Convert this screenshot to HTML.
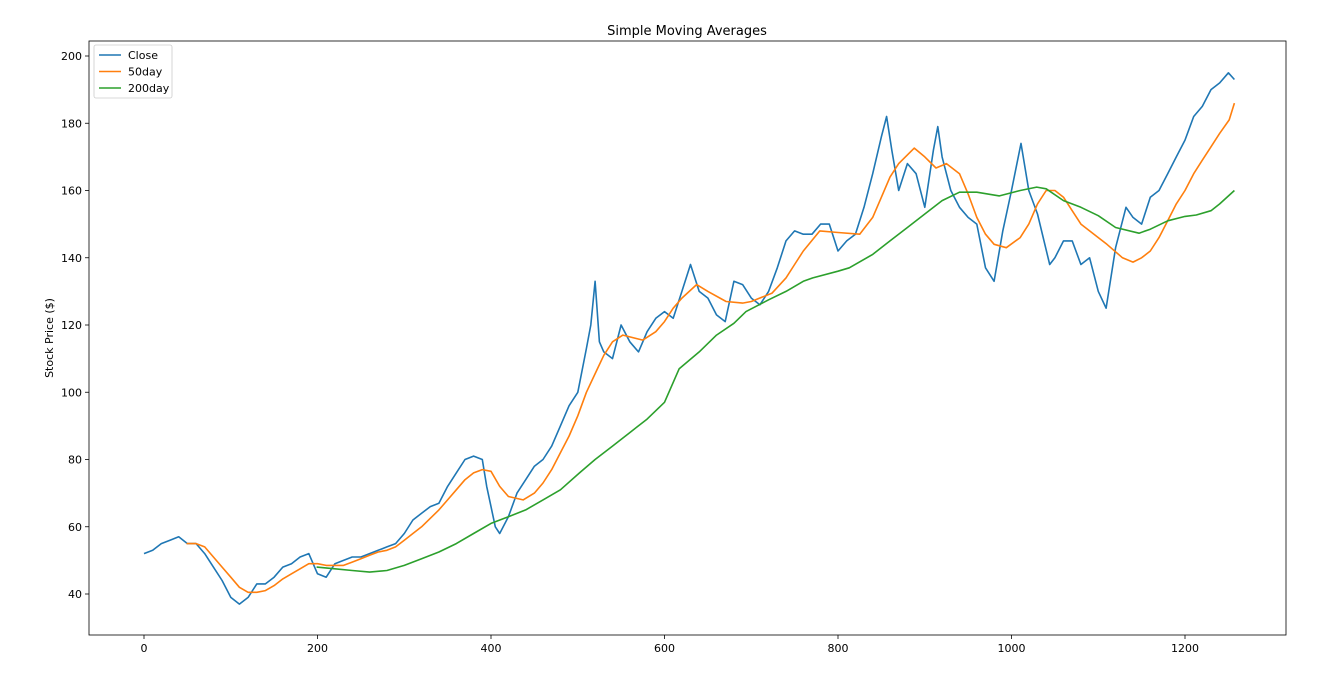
<!DOCTYPE html>
<html><head><meta charset="utf-8"><style>
body{margin:0;background:#fff;}
svg{display:block;font-family:"DejaVu Sans","Liberation Sans",sans-serif;}
</style></head><body>
<svg id="chart" width="1341" height="682" viewBox="0 0 1341 682"></svg>
<script>
const closeIdx=[0,10,20,30,40,50,60,70,80,90,100,110,120,130,140,150,160,170,180,190,200,210,220,230,240,250,260,270,280,290,300,310,320,330,340,350,360,370,380,390,395,400,405,410,420,430,440,450,460,470,480,490,500,510,515,520,525,530,540,550,560,570,580,590,600,610,620,630,640,650,660,670,680,690,700,710,720,730,740,750,760,770,780,790,800,810,820,830,840,850,856,862,870,880,890,900,910,915,920,930,940,950,960,970,980,990,1000,1011,1020,1030,1044,1050,1060,1070,1080,1090,1100,1109,1120,1132,1140,1150,1160,1170,1180,1190,1200,1210,1220,1230,1240,1250,1257];
const closeVals=[52,53,55,56,57,55,55,52,48,44,39,37,39,43,43,45,48,49,51,52,46,45,49,50,51,51,52,53,54,55,58,62,64,66,67,72,76,80,81,80,72,66,60,58,63,70,74,78,80,84,90,96,100,113,120,133,115,112,110,120,115,112,118,122,124,122,130,138,130,128,123,121,133,132,128,126,130,137,145,148,147,147,150,150,142,145,147,155,165,176,182,172,160,168,165,155,172,179,170,160,155,152,150,137,133,148,160,174,160,153,138,140,145,145,138,140,130,125,143,155,152,150,158,160,165,170,175,182,185,190,192,195,193];
const sma50Idx=[49,60,70,80,90,100,110,120,130,140,150,160,170,180,190,200,210,220,230,240,250,260,270,280,290,300,310,320,330,340,350,360,370,380,390,400,410,420,437,450,460,470,480,490,500,510,522,530,540,552,575,590,600,610,620,637,650,671,690,700,724,740,750,760,779,800,825,840,850,860,870,888,900,913,925,940,950,960,970,980,994,1010,1020,1030,1040,1050,1060,1070,1080,1090,1100,1110,1128,1140,1150,1160,1170,1180,1190,1200,1210,1220,1230,1240,1251,1257];
const sma50Vals=[55,55,54,51,48,45,42,40.5,40.5,41,42.5,44.5,46,47.5,49,49,48.5,48.5,48.5,49.5,50.5,51.5,52.5,53,54,56,58,60,62.5,65,68,71,74,76,77,76.5,72,69,68,70,73,77,82,87,93,100,106.6,111,115,117,115.5,118,121,125,128,132,130,127,126.5,127,129.5,134,138,142,148,147.5,147,152,158,164,168,172.6,170,166.7,168,165,159,152,147,144,143,146,150,156,160,160,158,154,150,148,146,144,140,138.7,140,142,146,151,156,160,165,169,173,177,181,186,187];
const sma200Idx=[199,220,240,260,280,300,320,340,360,380,400,420,440,460,480,502,520,540,560,580,600,617,640,660,680,694,720,740,760,771,800,813,840,860,880,900,920,940,960,986,1010,1029,1040,1060,1080,1100,1120,1147,1160,1180,1200,1213,1230,1240,1257];
const sma200Vals=[48,47.5,47,46.5,47,48.5,50.5,52.5,55,58,61,63,65,68,71,76,80,84,88,92,97,107,112,117,120.5,124,127.5,130,133,134,136,137,141,145,149,153,157,159.5,159.5,158.4,160,161,160.5,157,155,152.5,149,147.3,148.5,151,152.3,152.7,154,156,160];
const yTicks=[40,60,80,100,120,140,160,180,200];
const xTicks=[0,200,400,600,800,1000,1200];

const NS="http://www.w3.org/2000/svg";
const svg=document.getElementById('chart');
const L=89,R=1286,T=41,B=635;
const xs=v=>144+v*(1185-144)/1200;
const ys=v=>594-(v-40)*(594-56)/160;
function mk(tag,attrs,parent){const e=document.createElementNS(NS,tag);for(const k in attrs)e.setAttribute(k,attrs[k]);(parent||svg).appendChild(e);return e;}

const title=mk('text',{x:687,y:35,'text-anchor':'middle','font-size':13,fill:'#000'});
title.textContent='Simple Moving Averages';



const ylab=mk('text',{x:0,y:0,'text-anchor':'middle','font-size':11,fill:'#000',transform:'translate(53,338) rotate(-90)'});
ylab.textContent='Stock Price ($)';



yTicks.forEach(t=>{
  const y=ys(t);
  const ln=mk('line',{x1:L-4,x2:L,y1:y,y2:y,stroke:'#000','stroke-width':0.8});
  
  
  const tx=mk('text',{x:L-7,y:y+4,'text-anchor':'end','font-size':11,fill:'#000'});
  tx.textContent=t;
  
  
});
xTicks.forEach(t=>{
  const x=xs(t);
  const ln=mk('line',{x1:x,x2:x,y1:B,y2:B+4,stroke:'#000','stroke-width':0.8});
  
  
  const tx=mk('text',{x:x,y:B+17,'text-anchor':'middle','font-size':11,fill:'#000'});
  tx.textContent=t;
  
  
});

function series(idx,vals,color,w,name){
  const d=idx.map((v,i)=>(i?'L':'M')+xs(v).toFixed(1)+','+ys(vals[i]).toFixed(1)).join('');
  const p=mk('path',{d:d,fill:'none',stroke:color,'stroke-width':w,'stroke-linejoin':'round'});
  
  
}
series(closeIdx,closeVals,'#1f77b4',1.6,'close-line');
series(sma50Idx,sma50Vals,'#ff7f0e',1.6,'sma50-line');
series(sma200Idx,sma200Vals,'#2ca02c',1.6,'sma200-line');

const frame=mk('rect',{x:L,y:T,width:R-L,height:B-T,fill:'none',stroke:'#000','stroke-width':0.8});



const lg=mk('g',{});


mk('rect',{x:94,y:45,width:78,height:53,rx:2,fill:'#fff',stroke:'#ccc','stroke-width':0.8},lg);
[['Close','#1f77b4'],['50day','#ff7f0e'],['200day','#2ca02c']].forEach((e,i)=>{
  const y=55+i*16.5;
  const g=mk('g',{},lg);
  
  
  mk('line',{x1:99,x2:121,y1:y,y2:y,stroke:e[1],'stroke-width':1.6},g);
  const t=mk('text',{x:128,y:y+4,'font-size':11,fill:'#000'},g);
  t.textContent=e[0];
});
</script>
</body></html>
